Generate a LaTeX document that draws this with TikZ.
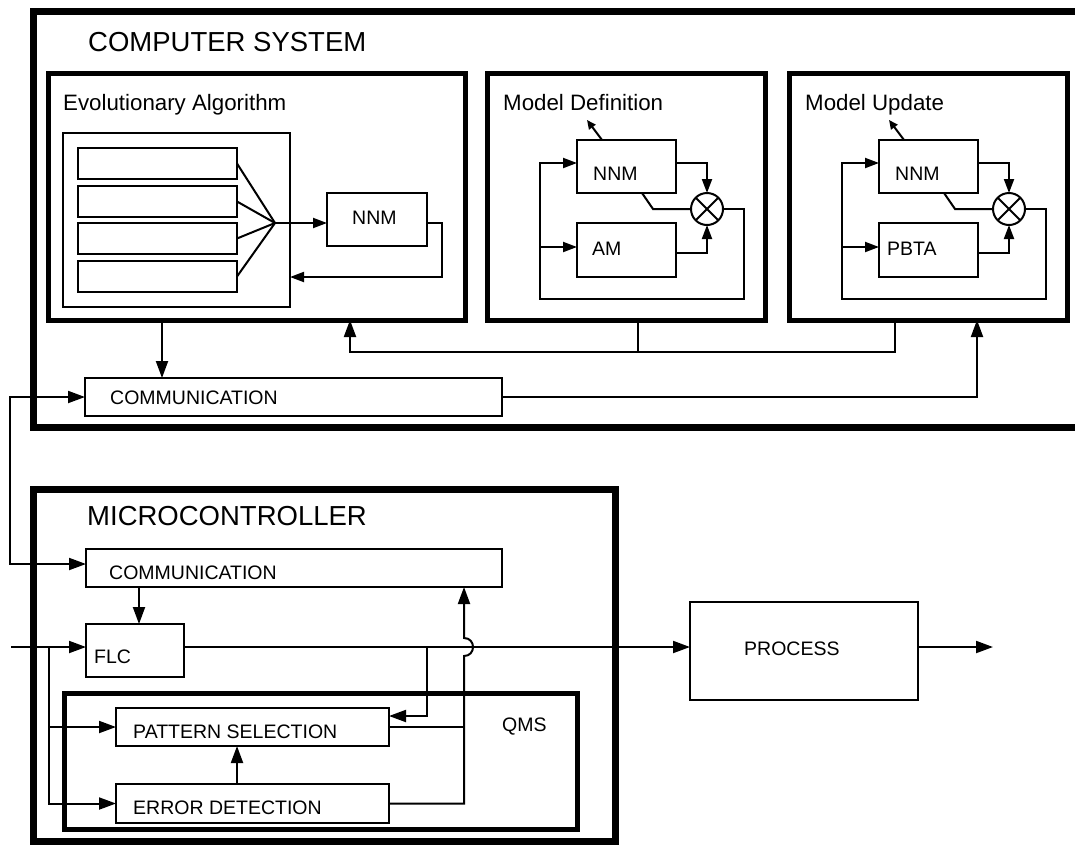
\documentclass[tikz,border=0pt]{standalone}
\usepackage{fontspec}
\setmainfont{Liberation Sans}
\usetikzlibrary{arrows.meta,calc}

\tikzset{
  csframe/.style={draw, line width=7pt, inner sep=0pt, outer sep=0pt, anchor=north west},
  frame/.style={draw, line width=5pt, inner sep=0pt, outer sep=0pt, anchor=north west},
  blk/.style={draw, line width=2.2pt, inner sep=0pt, outer sep=0pt, anchor=north west},
  xcircle/.style={draw, circle, line width=2pt, minimum size=32pt, inner sep=0pt, outer sep=0pt},
  wire/.style={line width=2pt},
  arr/.style={wire, -{Triangle[length=17pt,width=12pt]}},
  sarr/.style={wire, -{Triangle[length=14pt,width=10pt]}},
  tarr/.style={wire, -{Triangle[length=9pt,width=8pt]}},
  lbl/.style={anchor=base west, inner sep=0pt, font=\fontsize{19.5}{22}\selectfont},
  ttl/.style={anchor=base west, inner sep=0pt, font=\fontsize{27.5}{32}\selectfont},
  sub/.style={anchor=base west, inner sep=0pt, font=\fontsize{22.3}{26}\selectfont},
}

\begin{document}
\begin{tikzpicture}[x=1pt,y=-1pt]
\useasboundingbox (0,0) rectangle (1075,844);
\clip (0,0) rectangle (1075,844);

% ---------------- computer system ----------------
\node[csframe, minimum width=1080pt, minimum height=416pt] (cs) at (33,11) {};
\node[ttl] (cstitle) at (88,51.5) {COMPUTER SYSTEM};

% evolutionary algorithm
\node[frame, minimum width=417pt, minimum height=247pt] (ea) at (48,73) {};
\node[sub] (eatitle) at (63,110) {Evolutionary Algorithm};
\node[blk, minimum width=227pt, minimum height=174pt] (pop) at (63,133) {};
\foreach \i/\y in {1/148,2/186,3/223,4/261}
  \node[blk, minimum width=159pt, minimum height=31pt] (ind\i) at (78,\y) {};
\coordinate (fan) at (275,223);
\foreach \i in {1,...,4} \draw[wire] (ind\i.east) -- (fan);
\node[blk, minimum width=100pt, minimum height=53pt] (eannm) at (327,193) {};
\node[lbl] (eannmtxt) at (352,224) {NNM};
\draw[sarr] (fan) -- (eannm.west |- fan);
\coordinate (eafb) at (442,277);
\draw[sarr] (eannm.east |- fan) -| (eafb) -- (pop.east |- eafb);

% model definition / model update
\foreach \p/\dx/\ttl/\lab/\lx in {md/0/Model Definition/AM/592, mu/302/Model Update/PBTA/585}{
\begin{scope}[xshift=\dx pt]
  \node[frame, minimum width=278pt, minimum height=247pt] (\p) at (487,73) {};
  \node[sub] (\p title) at (503,110) {\ttl};
  \node[blk, minimum width=99pt, minimum height=53pt] (\p nnm) at (577,140) {};
  \node[lbl] (\p nnmtxt) at (593,180) {NNM};
  \node[blk, minimum width=99pt, minimum height=54pt] (\p aux) at (577,223) {};
  \node[lbl] (\p auxtxt) at (\lx,255) {\lab};
  \node[xcircle] (\p mul) at (707,209) {};
  \draw[wire] (\p mul.45) -- (\p mul.225) (\p mul.135) -- (\p mul.315);
  \draw[tarr] ($(\p nnm.north west)+(25,0)$) -- ++(-15,-20);
  \draw[sarr] ($(\p nnm.north east)+(0,23)$) -| (\p mul.north);
  \draw[sarr] ($(\p aux.north east)+(0,30)$) -| (\p mul.south);
  \draw[wire] ($(\p nnm.south west)+(65,0)$) -- ++(11,16) -- (\p mul.west);
  \coordinate (\p fbr) at (744,299);
  \coordinate (\p fbl) at (540,299);
  \coordinate (\p nin) at ($(\p nnm.north west)+(0,23)$);
  \coordinate (\p ain) at ($(\p aux.north west)+(0,24)$);
  \draw[sarr] (\p mul.east) -| (\p fbr) -- (\p fbl) |- (\p nin);
  \draw[sarr] (\p fbl |- \p ain) -- (\p ain);
\end{scope}}

% communication of the computer system
\node[blk, minimum width=417pt, minimum height=38pt] (ccomm) at (85,378) {};
\node[lbl] (ccommtxt) at (110,404) {COMMUNICATION};
\coordinate (eadown) at (162,350);
\draw[arr] (ea.south -| eadown) -- (ccomm.north -| eadown);
\coordinate (mdtap) at (638,352);
\coordinate (mutap) at (895,352);
\coordinate (back) at (350,352);
\draw[wire] (md.south -| mdtap) -- (mdtap);
\draw[arr] (mu.south -| mutap) -- (mutap) -- (back) -- (ea.south -| back);
\coordinate (upmu) at (977,397);
\draw[arr] (ccomm.east |- upmu) -- (upmu) -- (mu.south -| upmu);

% ---------------- microcontroller ----------------
\node[csframe, minimum width=582pt, minimum height=352pt] (mc) at (33,489) {};
\node[ttl] (mctitle) at (87,525) {MICROCONTROLLER};
\node[blk, minimum width=416pt, minimum height=38pt] (mcomm) at (86,549) {};
\node[lbl] (mcommtxt) at (109,579) {COMMUNICATION};

% link between the two communication blocks
\coordinate (lw) at (10,564);
\draw[wire, {Triangle[length=17pt,width=12pt]}-{Triangle[length=17pt,width=12pt]}]
  (ccomm.west) -| (lw) -- (mcomm.west |- lw);

\node[blk, minimum width=98pt, minimum height=53pt] (flc) at (86,624) {};
\node[lbl] (flctxt) at (94,663) {FLC};
\coordinate (xcf) at (139,600);
\draw[arr] (mcomm.south -| xcf) -- (flc.north -| xcf);

\coordinate (sig) at (11,647);
\draw[arr] (sig) -- (flc.west |- sig);

\node[blk, minimum width=228pt, minimum height=98pt] (proc) at (690,602) {};
\node[lbl] (proctxt) at (744,655) {PROCESS};
\draw[arr] (flc.east |- sig) -- (proc.west |- sig);
\coordinate (out) at (993,647);
\draw[arr] (proc.east |- out) -- (out);

% quality management system
\node[frame, minimum width=513pt, minimum height=136pt] (qms) at (64,693) {};
\node[lbl] (qmstxt) at (502,731) {QMS};
\node[blk, minimum width=273pt, minimum height=38pt] (ps) at (116,708) {};
\node[lbl] (pstxt) at (133,738) {PATTERN SELECTION};
\node[blk, minimum width=273pt, minimum height=39pt] (ed) at (116,784) {};
\node[lbl] (edtxt) at (133,814) {ERROR DETECTION};

\coordinate (xed) at (237,760);
\draw[arr] (ed.north -| xed) -- (ps.south -| xed);

\coordinate (tapl) at (49,647);
\draw[arr] (tapl) |- (ps.west);
\draw[arr] (tapl) |- (ed.west);

\coordinate (tapr) at (427,647);
\coordinate (psin) at ($(ps.north east)+(0,8)$);
\draw[arr] (tapr) |- (psin);

\coordinate (ret) at (464,700);
\draw[wire] (ps.east) -- (ps.east -| ret);
\draw[arr] (ed.east) -| ($(ret |- sig)+(0,9)$)
  .. controls +(12,0) and +(12,0) .. ($(ret |- sig)+(0,-9)$)
  -- (mcomm.south -| ret);

\end{tikzpicture}
\end{document}
